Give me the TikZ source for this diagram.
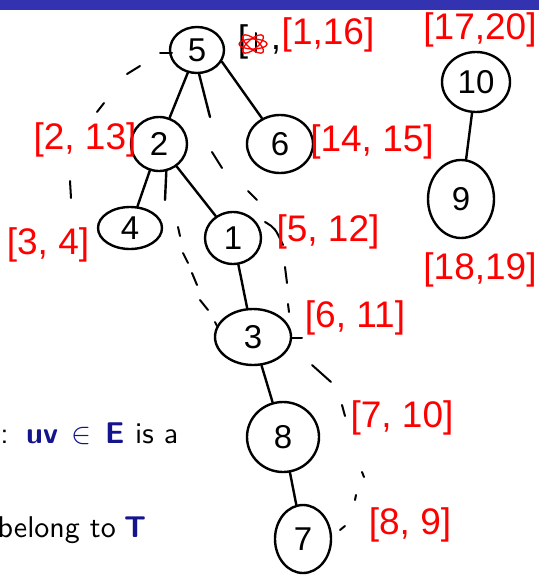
\documentclass[tikz,border=0pt]{standalone}
\usepackage{fontspec}
\usepackage{graphicx}
\newfontfamily\hand{Liberation Sans}
\newfontfamily\slidesf{lmsans10-regular.otf}[BoldFont=lmsans10-bold.otf]
\usetikzlibrary{shapes.geometric}
\definecolor{barblue}{RGB}{51,51,178}
\definecolor{txtblue}{RGB}{20,20,140}
\newcommand{\bigin}{{\fontsize{10}{12}\selectfont\scalebox{3}{$\in$}}}
\begin{document}
\begin{tikzpicture}[x=1pt,y=-1pt,
  vert/.style={ellipse, draw, line width=2.4pt, inner sep=0pt, font=\hand\fontsize{33}{33}\selectfont},
  edge/.style={line width=2.4pt, line cap=round},
  tick/.style={line width=2pt, line cap=round},
  lab/.style={text=red, font=\hand\fontsize{37}{37}\selectfont, inner sep=0pt},
  slide/.style={font=\slidesf\fontsize{30}{36}\selectfont, inner sep=0pt},
  slideb/.style={slide, text=txtblue, font=\slidesf\bfseries\fontsize{30}{36}\selectfont}]
\useasboundingbox (0,0) rectangle (539,575);
\clip (0,0) rectangle (539,575);
\fill[barblue] (0,0) rectangle (539,10);

% slide text
\node[slide, anchor=base east] (t1a) at (9,443) {s:};
\node[slideb, anchor=base west] (t1b) at (26,443) {uv};
\node[slide, text=txtblue, anchor=base west] (t1c) at (71,443) {\bigin};
\node[slideb, anchor=base west] (t1d) at (105,443) {E};
\node[slide, anchor=base west] (t1e) at (135,443) {is a};
\node[slide, anchor=base east] (t2a) at (116,537) {belong to};
\node[slideb, anchor=base west] (t2b) at (124,537) {T};

% vertices
\node[vert, minimum width=54, minimum height=46] (n5) at (197,50) {5};
\node[vert, minimum width=56, minimum height=54] (n2) at (159,144) {2};
\node[vert, minimum width=66, minimum height=58] (n6) at (280,144) {6};
\node[vert, minimum width=64, minimum height=42] (n4) at (130,228) {4};
\node[vert, minimum width=56, minimum height=52] (n1) at (233,238) {1};
\node[vert, minimum width=76, minimum height=56] (n3) at (253,337) {3};
\node[vert, minimum width=72, minimum height=70] (n8) at (283,437) {8};
\node[vert, minimum width=56, minimum height=68] (n7) at (303,539) {7};
\node[vert, minimum width=68, minimum height=60] (n10) at (476,82) {10};
\node[vert, minimum width=66, minimum height=78] (n9) at (461,199) {9};

% tree edges
\draw[edge] (n5) -- (n2);
\draw[edge] (n5.-25) -- (n6.125);
\draw[edge] (n2) -- (n4);
\draw[edge] (n2) -- (n1);
\draw[edge] (n1) -- (n3);
\draw[edge] (n3) -- (n8);
\draw[edge] (n8) -- (n7);
\draw[edge] (n10) -- (n9);
\coordinate (e5) at (210,117);
\coordinate (e2) at (165,200);
\draw[edge] (n5.-85) -- (e5);
\draw[edge] (n2.-75) -- (e2);

% traversal strokes
\draw[tick] (160,53) -- (172,53);
\draw[tick] (127,74) -- (140,66);
\draw[tick] (97,112) -- (104,103);
\draw[tick] (70,181) -- (71,198);
\draw[tick] (212,152) -- (222,168);
\draw[tick] (248,191) -- (257,200);
\draw[tick] (265,222) .. controls (275,228) .. (283,245);
\draw[tick] (285,267) -- (287,283);
\draw[tick] (288,304) -- (289,312);
\draw[tick] (292,338) -- (302,338);
\draw[tick] (312,365) -- (331,382);
\draw[tick] (342,405) -- (345,416);
\draw[tick] (362,472) -- (364,477);
\draw[tick] (356,495) -- (355,500);
\draw[tick] (340,530) -- (345,526);
\draw[tick] (178,227) -- (180,236);
\draw[tick] (183,253) -- (188,263);
\draw[tick] (192,273) -- (197,285);
\draw[tick] (200,300) -- (208,310);
\draw[tick] (215,322) -- (217,326);

% labels
\node[font=\hand\fontsize{37}{37}\selectfont, inner sep=0pt] (b5) at (243,42) {[};
\draw[line width=2pt, line cap=round] (256,33) -- (256,52);
\node[font=\hand\fontsize{37}{37}\selectfont, inner sep=0pt] (c5) at (276,50) {,};
\draw[red, line width=1.3pt] (253,44) ellipse [x radius=14, y radius=5];
\draw[red, line width=1.3pt, rotate around={40:(253,44)}] (253,44) ellipse [x radius=13, y radius=5];
\draw[red, line width=1.3pt, rotate around={-40:(253,44)}] (253,44) ellipse [x radius=13, y radius=5];
\node[lab] (l5) at (328,35) {[1,16]};
\node[lab] (l10) at (480,30) {[17,20]};
\node[lab] (l2) at (85,140) {[2, 13]};
\node[lab] (l6) at (372,142) {[14, 15]};
\node[lab] (l4) at (48,245) {[3, 4]};
\node[lab] (l1) at (328,232) {[5, 12]};
\node[lab] (l9) at (480,270) {[18,19]};
\node[lab] (l3) at (355,318) {[6, 11]};
\node[lab] (l8) at (402,418) {[7, 10]};
\node[lab] (l7) at (410,525) {[8, 9]};
\end{tikzpicture}
\end{document}
